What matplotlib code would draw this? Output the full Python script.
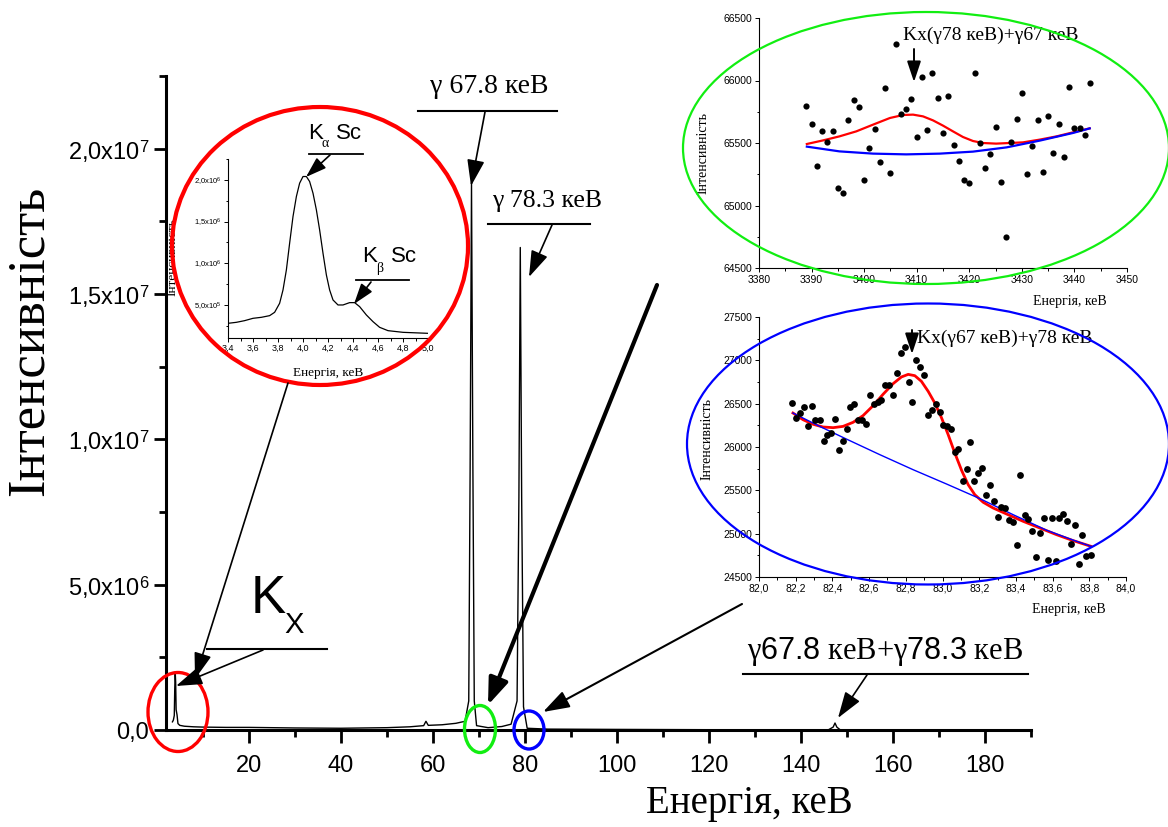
import matplotlib
matplotlib.use('Agg')
import matplotlib.pyplot as plt
from matplotlib.patches import Ellipse, FancyArrowPatch
from matplotlib.lines import Line2D
from matplotlib.ticker import FixedLocator

plt.rcParams['font.family'] = ['Liberation Sans', 'DejaVu Sans']
plt.rcParams['mathtext.fontset'] = 'custom'
plt.rcParams['mathtext.rm'] = 'Liberation Serif'
plt.rcParams['mathtext.sf'] = 'Liberation Sans'
plt.rcParams['mathtext.it'] = 'Liberation Serif:italic'

SERIF = ['Liberation Serif', 'DejaVu Serif']
SANS = ['Liberation Sans', 'DejaVu Sans']

# ---------------- main spectrum ----------------
main_energy = [3.4, 3.6, 3.8, 3.9, 4.0, 4.1, 4.2, 4.4, 4.6, 5.0, 6, 8, 10, 15, 20, 30, 40,
               50, 55, 58, 58.5, 59, 62, 65, 67, 67.8, 68.1, 68.4, 68.7, 69.0, 69.5, 72, 75,
               77, 78.3, 78.7, 79.0, 79.3, 79.7, 80.5, 85, 100, 120, 140, 146, 147.0, 147.4,
               147.8, 148.5, 160, 175, 190]
main_counts = [2.8e5, 3.4e5, 5e5, 1.4e6, 2.0e6, 1.65e6, 7e5, 5.2e5, 2.2e5, 1.6e5, 1.3e5, 1.1e5,
               1.0e5, 0.9e5, 0.9e5, 0.7e5, 0.6e5, 0.8e5, 1.1e5, 1.5e5, 3.0e5, 1.6e5, 1.8e5,
               2.3e5, 3.0e5, 1.0e6, 9e6, 1.88e7, 9e6, 1.0e6, 1.5e5, 0.8e5, 1.2e5, 2.0e5, 1.0e6,
               8e6, 1.66e7, 8e6, 0.8e6, 0.6e5, 0.3e5, 0.2e5, 0.1e5, 0.1e5, 0.1e5, 1e5, 2.4e5,
               1e5, 0.1e5, 0.05e5, 0, 0]
main_xticks = [20, 40, 60, 80, 100, 120, 140, 160, 180]
main_xtick_labels = ['20', '40', '60', '80', '100', '120', '140', '160', '180']
main_xminor = [10, 30, 50, 70, 90, 110, 130, 150, 170, 190]
main_yticks = [0, 5e6, 1e7, 1.5e7, 2e7]
main_ytick_labels = ['0,0', r'5,0x10$^{\mathsf{6}}$', r'1,0x10$^{\mathsf{7}}$',
                     r'1,5x10$^{\mathsf{7}}$', r'2,0x10$^{\mathsf{7}}$']
main_yminor = [2.5e6, 7.5e6, 1.25e7, 1.75e7, 2.25e7]

# ---------------- Kx inset ----------------
kx_energy = [3.4, 3.467, 3.533, 3.6, 3.667, 3.733, 3.773, 3.813, 3.84, 3.867, 3.893, 3.92,
             3.947, 3.973, 4.0, 4.027, 4.053, 4.08, 4.107, 4.133, 4.16, 4.187, 4.213, 4.24,
             4.28, 4.32, 4.373, 4.413, 4.453, 4.507, 4.56, 4.613, 4.68, 4.8, 5.0]
kx_counts = [2.8e5, 2.92e5, 3.12e5, 3.4e5, 3.52e5, 3.72e5, 4.12e5, 5.2e5, 6.8e5, 9.2e5,
             1.24e6, 1.56e6, 1.8e6, 1.96e6, 2.04e6, 2.04e6, 1.98e6, 1.84e6, 1.64e6, 1.4e6,
             1.12e6, 8.6e5, 6.8e5, 5.6e5, 5.0e5, 5.0e5, 5.28e5, 5.28e5, 4.8e5, 3.8e5, 3.0e5,
             2.32e5, 1.92e5, 1.72e5, 1.6e5]
kx_xticks = [3.4, 3.6, 3.8, 4.0, 4.2, 4.4, 4.6, 4.8, 5.0]
kx_xtick_labels = ['3,4', '3,6', '3,8', '4,0', '4,2', '4,4', '4,6', '4,8', '5,0']
kx_xminor = [3.5, 3.7, 3.9, 4.1, 4.3, 4.5, 4.7, 4.9]
kx_yticks = [5e5, 1e6, 1.5e6, 2e6]
kx_ytick_labels = [r'5,0x10$^{\mathsf{5}}$', r'1,0x10$^{\mathsf{6}}$',
                   r'1,5x10$^{\mathsf{6}}$', r'2,0x10$^{\mathsf{6}}$']
kx_yminor = [2.5e5, 7.5e5, 1.25e6, 1.75e6, 2.25e6]

# ---------------- green inset (channels ~3410) ----------------
g_channel = [3389, 3390, 3391, 3392, 3393, 3394, 3395, 3396, 3397, 3398, 3399, 3400, 3401,
             3402, 3403, 3404, 3405, 3406, 3407, 3408, 3409, 3410, 3411, 3412, 3413, 3414,
             3415, 3416, 3417, 3418, 3419, 3420, 3421, 3422, 3423, 3424, 3425, 3426, 3427,
             3428, 3429, 3430, 3431, 3432, 3433, 3434, 3435, 3436, 3437, 3438, 3439, 3440,
             3441, 3442, 3443]
g_counts = [65800, 65655, 65319, 65593, 65505, 65596, 65140, 65103, 65681, 65844, 65785,
            65204, 65460, 65609, 65348, 65940, 65260, 66292, 65732, 65775, 65849, 65545,
            66028, 65604, 66063, 65857, 65583, 65876, 65481, 65353, 65207, 65177, 66063,
            65500, 65302, 65409, 65628, 65188, 64745, 65511, 65695, 65900, 65255, 65479,
            65684, 65271, 65716, 65417, 65652, 65388, 65945, 65617, 65617, 65561, 65980]
g_fit_channel = [3389.1, 3392.2, 3395.3, 3398.5, 3401.7, 3404.9, 3407.4, 3409.3, 3411.2,
                 3413.1, 3415.0, 3416.9, 3418.8, 3420.7, 3422.6, 3425.1, 3427.7, 3430.2,
                 3433.4, 3436.6, 3439.7, 3442.9]
g_fit_counts = [65492, 65521, 65553, 65593, 65647, 65700, 65724, 65727, 65713, 65681, 65639,
                65593, 65548, 65516, 65500, 65495, 65500, 65505, 65527, 65553, 65585, 65617]
g_bg_channel = [3389.1, 3395.3, 3401.7, 3408.0, 3414.4, 3420.7, 3427.1, 3433.4, 3439.7, 3442.9]
g_bg_counts = [65471, 65433, 65415, 65409, 65415, 65431, 65465, 65519, 65580, 65617]
g_xticks = [3380, 3390, 3400, 3410, 3420, 3430, 3440, 3450]
g_xtick_labels = ['3380', '3390', '3400', '3410', '3420', '3430', '3440', '3450']
g_xminor = [3385, 3395, 3405, 3415, 3425, 3435, 3445]
g_yticks = [64500, 65000, 65500, 66000, 66500]
g_ytick_labels = ['64500', '65000', '65500', '66000', '66500']
g_yminor = [64750, 65250, 65750, 66250]

# ---------------- blue inset (82-84 keV) ----------------
b_energy = [82.182, 82.204, 82.225, 82.247, 82.267, 82.287, 82.307, 82.331, 82.353, 82.373,
            82.395, 82.415, 82.436, 82.456, 82.478, 82.498, 82.520, 82.542, 82.562, 82.584,
            82.604, 82.625, 82.647, 82.667, 82.689, 82.711, 82.731, 82.753, 82.773, 82.795,
            82.815, 82.836, 82.856, 82.878, 82.900, 82.920, 82.942, 82.962, 82.984, 83.004,
            83.025, 83.045, 83.067, 83.087, 83.109, 83.131, 83.151, 83.173, 83.195, 83.215,
            83.236, 83.258, 83.278, 83.300, 83.320, 83.342, 83.362, 83.384, 83.405, 83.425,
            83.447, 83.467, 83.489, 83.511, 83.531, 83.553, 83.573, 83.595, 83.616, 83.636,
            83.658, 83.678, 83.700, 83.720, 83.742, 83.762, 83.784, 83.809]
b_counts = [26508, 26338, 26388, 26458, 26242, 26477, 26315, 26308, 26065, 26135, 26158,
            26327, 25969, 26065, 26204, 26458, 26496, 26308, 26308, 26269, 26604, 26496,
            26515, 26538, 26719, 26715, 26604, 26858, 27085, 27150, 26754, 26523, 27000,
            26919, 26831, 26373, 26423, 26492, 26404, 26258, 26238, 26208, 25938, 25973,
            25608, 25750, 26054, 25612, 25696, 25754, 25442, 25558, 25381, 25192, 25308,
            25296, 25154, 25131, 24865, 25673, 25212, 25169, 25027, 24727, 25004, 25181,
            24692, 25181, 24685, 25185, 25227, 25146, 24881, 25096, 24646, 24985, 24746, 24758]
b_fit_energy = [82.185, 82.240, 82.295, 82.349, 82.404, 82.458, 82.513, 82.567, 82.622,
                82.676, 82.731, 82.776, 82.813, 82.849, 82.885, 82.922, 82.958, 82.995,
                83.031, 83.067, 83.104, 83.140, 83.176, 83.222, 83.276, 83.349, 83.440,
                83.531, 83.622, 83.713, 83.809]
b_fit_counts = [26392, 26315, 26262, 26231, 26223, 26238, 26285, 26362, 26477, 26608, 26731,
                26808, 26838, 26823, 26758, 26642, 26508, 26335, 26142, 25931, 25731, 25565,
                25450, 25362, 25296, 25227, 25142, 25065, 24988, 24919, 24854]
b_bg_energy = [82.185, 82.331, 82.476, 82.658, 82.840, 83.022, 83.204, 83.385, 83.567,
               83.713, 83.809]
b_bg_counts = [26392, 26238, 26092, 25912, 25738, 25573, 25404, 25219, 25040, 24925, 24854]
b_xticks = [82.0, 82.2, 82.4, 82.6, 82.8, 83.0, 83.2, 83.4, 83.6, 83.8, 84.0]
b_xtick_labels = ['82,0', '82,2', '82,4', '82,6', '82,8', '83,0', '83,2', '83,4', '83,6',
                  '83,8', '84,0']
b_xminor = [82.1, 82.3, 82.5, 82.7, 82.9, 83.1, 83.3, 83.5, 83.7, 83.9]
b_yticks = [24500, 25000, 25500, 26000, 26500, 27000, 27500]
b_ytick_labels = ['24500', '25000', '25500', '26000', '26500', '27000', '27500']
b_yminor = [24750, 25250, 25750, 26250, 26750, 27250]

# ---------------- figure ----------------
W, H = 1168, 827
fig = plt.figure(figsize=(W / 100, H / 100), dpi=100)


def P(px, py):
    return (px / W, 1 - py / H)


def rect(l, t, r, b):
    return [l / W, 1 - b / H, (r - l) / W, (b - t) / H]


def style_axes(ax, lw, major_len, minor_len, tw, lsize, pad):
    for s in ['top', 'right']:
        ax.spines[s].set_visible(False)
    for s in ['left', 'bottom']:
        ax.spines[s].set_linewidth(lw)
    ax.tick_params(which='major', direction='out', length=major_len, width=tw,
                   labelsize=lsize, pad=pad)
    ax.tick_params(which='minor', direction='out', length=minor_len, width=tw)


def set_ticks(ax, xt, xl, xm, yt, yl, ym):
    ax.xaxis.set_major_locator(FixedLocator(xt))
    ax.set_xticklabels(xl)
    ax.xaxis.set_minor_locator(FixedLocator(xm))
    ax.yaxis.set_major_locator(FixedLocator(yt))
    ax.set_yticklabels(yl)
    ax.yaxis.set_minor_locator(FixedLocator(ym))


# main axes
ax = fig.add_axes(rect(166, 76, 1031, 730), facecolor='none')
ax.plot(main_energy, main_counts, color='black', lw=1.0)
ax.set_xlim(2, 190)
ax.set_ylim(0, 2.25e7)
set_ticks(ax, main_xticks, main_xtick_labels, main_xminor,
          main_yticks, main_ytick_labels, main_yminor)
style_axes(ax, 2.2, 9, 5, 2, 17, 9)
ax.tick_params(axis='y', which='major', pad=3)
fig.text(*P(30, 341), 'Інтенсивність', rotation=90, ha='center', va='center',
         fontsize=38, family=SERIF)
fig.text(*P(749, 803), 'Енергія, кеВ', ha='center', va='center', fontsize=28, family=SERIF)

# Kx inset
axk = fig.add_axes(rect(228, 159, 428, 338), facecolor='none')
axk.plot(kx_energy, kx_counts, color='black', lw=0.9)
axk.set_xlim(3.4, 5.0)
axk.set_ylim(1.04e5, 2.25e6)
set_ticks(axk, kx_xticks, kx_xtick_labels, kx_xminor, kx_yticks, kx_ytick_labels, kx_yminor)
style_axes(axk, 0.8, 3, 1.8, 0.7, 6.5, 1.5)
axk.tick_params(axis='y', labelsize=5.5)
axk.set_ylabel('Інтенсивність', family=SERIF, fontsize=9.5)
axk.yaxis.set_label_coords(-0.25, 0.45)
axk.set_xlabel('Енергія, кеВ', family=SERIF, fontsize=9.5)
axk.xaxis.set_label_coords(0.5, -0.16)

# green inset
axg = fig.add_axes(rect(759, 18, 1127, 268), facecolor='none')
axg.scatter(g_channel, g_counts, s=20, color='black', zorder=3, linewidths=0)
axg.plot(g_fit_channel, g_fit_counts, color='red', lw=1.6, zorder=2)
axg.plot(g_bg_channel, g_bg_counts, color='blue', lw=1.6, zorder=2)
axg.set_xlim(3380, 3450)
axg.set_ylim(64500, 66500)
set_ticks(axg, g_xticks, g_xtick_labels, g_xminor, g_yticks, g_ytick_labels, g_yminor)
style_axes(axg, 0.8, 3, 1.8, 0.7, 7.5, 2)
axg.set_ylabel('Інтенсивність', family=SERIF, fontsize=10)
axg.yaxis.set_label_coords(-0.135, 0.46)
axg.set_xlabel('Енергія, кеВ', family=SERIF, fontsize=10)
axg.xaxis.set_label_coords(0.845, -0.11)

# blue inset
axb = fig.add_axes(rect(759, 317, 1126, 577), facecolor='none')
axb.scatter(b_energy, b_counts, s=24, color='black', zorder=3, linewidths=0)
axb.plot(b_fit_energy, b_fit_counts, color='red', lw=2.0, zorder=2)
axb.plot(b_bg_energy, b_bg_counts, color='blue', lw=1.0, zorder=2)
axb.set_xlim(82.0, 84.0)
axb.set_ylim(24500, 27500)
set_ticks(axb, b_xticks, b_xtick_labels, b_xminor, b_yticks, b_ytick_labels, b_yminor)
style_axes(axb, 0.8, 3, 1.8, 0.7, 7.5, 2)
axb.set_ylabel('Інтенсивність', family=SERIF, fontsize=10)
axb.yaxis.set_label_coords(-0.125, 0.53)
axb.set_xlabel('Енергія, кеВ', family=SERIF, fontsize=10)
axb.xaxis.set_label_coords(0.845, -0.10)


# ---------------- decorations ----------------
def ellipse(cx, cy, w, h, color, lw):
    e = Ellipse(P(cx, cy), w / W, h / H, transform=fig.transFigure, fill=False,
                edgecolor=color, lw=lw, zorder=5)
    fig.add_artist(e)


ellipse(320, 246, 296, 278, 'red', 3.0)
ellipse(926, 148, 486, 272, '#11ee11', 1.6)
ellipse(928, 444, 482, 281, '#0000ff', 1.6)
ellipse(178, 712, 60, 79, 'red', 2.4)
ellipse(480, 729, 31, 47, '#11ee11', 2.4)
ellipse(529, 730, 30, 38, '#0000ff', 2.4)


def hline(x0, x1, y, lw=1.5):
    fig.add_artist(Line2D([x0 / W, x1 / W], [1 - y / H, 1 - y / H],
                          transform=fig.transFigure, color='black', lw=lw))


def arrow(tail, tip, lw=1.2, hl=0.9, hw=0.3, ms=18):
    fig.add_artist(FancyArrowPatch(
        P(*tail), P(*tip), transform=fig.transFigure,
        arrowstyle='-|>,head_length=%g,head_width=%g' % (hl, hw),
        mutation_scale=ms, color='black', lw=lw, shrinkA=0, shrinkB=0, zorder=6))


# gamma 67.8
fig.text(*P(489, 93), 'γ 67.8 кеВ', ha='center', va='baseline', fontsize=20, family=SERIF)
hline(418, 557, 111)
arrow((485, 112), (471, 186))
# gamma 78.3
fig.text(*P(547, 207), 'γ 78.3 кеВ', ha='center', va='baseline', fontsize=18.5, family=SERIF)
hline(488, 590, 224)
arrow((552, 225), (529, 277))
# Kx
fig.text(*P(251, 613), 'K', ha='left', va='baseline', fontsize=38, family=SANS)
fig.text(*P(284, 633), 'X', ha='left', va='baseline', fontsize=21, family=SANS)
hline(207, 327, 649)
arrow((263, 650), (176, 686))
arrow((288, 383), (195, 679))
# sum peak
fig.text(*P(885, 659), r'γ$\mathsf{67.8}$ кеВ+γ$\mathsf{78.3}$ кеВ', ha='center',
         va='baseline', fontsize=22, family=SERIF)
hline(743, 1028, 674)
arrow((867, 675), (838, 718))
# inset pointers
arrow((657, 285), (488, 705), lw=3.0, hl=0.8, hw=0.3, ms=20)
arrow((742, 604), (543, 712), lw=1.5)
# inset annotations
fig.text(*P(903, 40), 'Kx(γ78 кеВ)+γ67 кеВ', ha='left', va='baseline', fontsize=14,
         family=SERIF)
arrow((914, 49), (914, 82), lw=1.4, ms=14)
fig.text(*P(917, 343), 'Kx(γ67 кеВ)+γ78 кеВ', ha='left', va='baseline', fontsize=14,
         family=SERIF)
arrow((912, 330), (912, 354), lw=1.4, ms=14)
# K alpha / K beta
fig.text(*P(308, 139), 'K', ha='left', va='baseline', fontsize=16, family=SANS)
fig.text(*P(322, 147), 'α', ha='left', va='baseline', fontsize=10, family=SERIF)
fig.text(*P(336, 139), 'Sc', ha='left', va='baseline', fontsize=16, family=SANS)
hline(309, 363, 154, lw=1.3)
arrow((330, 155), (306, 177), lw=1.2, ms=14)
fig.text(*P(362, 262), 'K', ha='left', va='baseline', fontsize=16, family=SANS)
fig.text(*P(376, 272), 'β', ha='left', va='baseline', fontsize=10, family=SERIF)
fig.text(*P(391, 262), 'Sc', ha='left', va='baseline', fontsize=16, family=SANS)
hline(356, 409, 280, lw=1.3)
arrow((371, 282), (354, 304), lw=1.2, ms=14)

fig.savefig('out.png', dpi=100)
